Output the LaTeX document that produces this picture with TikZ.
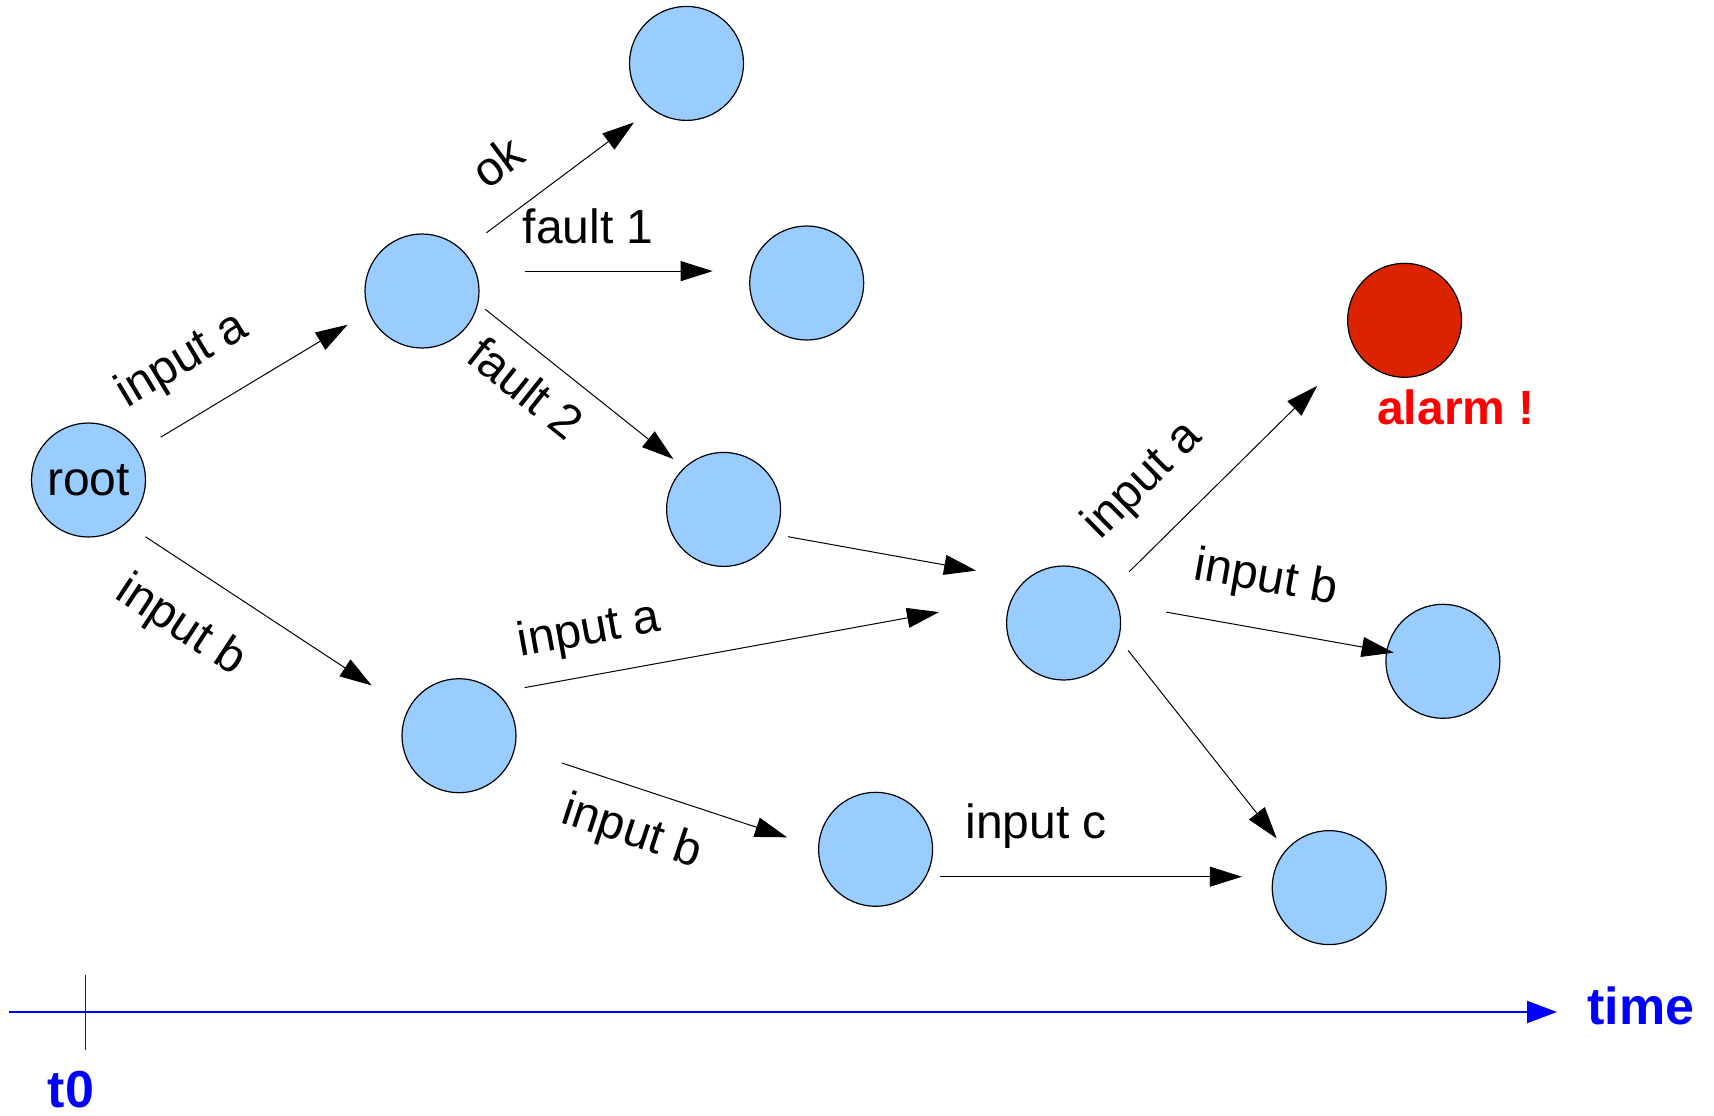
\documentclass[tikz,border=0pt]{standalone}
\usepackage{fontspec}
\setmainfont{Liberation Sans}
\usetikzlibrary{arrows.meta}
\definecolor{nodeblue}{HTML}{99CCFF}
\definecolor{nodered}{HTML}{DC2300}
\definecolor{alarmred}{HTML}{FF0000}
\definecolor{axisblue}{HTML}{0000FF}
\begin{document}
\begin{tikzpicture}[x=0.5pt,y=-0.5pt,
  state/.style={circle,draw=black,line width=0.6pt,fill=nodeblue,minimum size=57pt,inner sep=0pt,
    font=\fontsize{24}{28}\selectfont},
  badstate/.style={state,fill=nodered},
  trans/.style={line width=0.5pt,-{Triangle[length=16pt,width=10pt]}},
  lbl/.style={font=\fontsize{24}{28}\selectfont,inner sep=0pt},
  alarmlbl/.style={font=\fontsize{24}{28}\selectfont\bfseries,text=alarmred,inner sep=0pt},
  axislbl/.style={font=\fontsize{26}{30}\selectfont\bfseries,text=axisblue,inner sep=0pt},
  axis/.style={draw=axisblue,line width=1pt,-{Triangle[length=15pt,width=11pt]}},
  tick/.style={draw=axisblue,line width=0.5pt}]
\useasboundingbox (0,0) rectangle (1714,1115);

% states
\node[state] (root) at (88.5,480) {root};
\node[state] (A) at (422,291) {};
\node[state] (ok) at (686.5,63.4) {};
\node[state] (f1) at (806.7,283) {};
\node[state] (f2) at (723.6,509.4) {};
\node[state] (B) at (459,735.7) {};
\node[state] (C) at (1063.6,623) {};
\node[badstate] (alarm) at (1404.6,320.3) {};
\node[state] (Rb) at (1442.9,661.3) {};
\node[state] (D) at (875.6,849.3) {};
\node[state] (E) at (1329.2,887.6) {};

% connector end points
\coordinate (s1) at (160.7,437.2);  \coordinate (e1) at (347.6,324.7);
\coordinate (s2) at (145.4,536.7);  \coordinate (e2) at (371.7,685.4);
\coordinate (s3) at (486.4,232.8);  \coordinate (e3) at (634,122.4);
\coordinate (s4) at (524.7,271.1);  \coordinate (e4) at (712.7,271.1);
\coordinate (s5) at (485.3,309.3);  \coordinate (e5) at (673.4,459.1);
\coordinate (s6) at (788.1,536.7);  \coordinate (e6) at (976.1,570.6);
\coordinate (s7) at (524.7,687.6);  \coordinate (e7) at (939,612.1);
\coordinate (s8) at (561.9,763);    \coordinate (e8) at (787,837.3);
\coordinate (s9) at (940.1,876.7);  \coordinate (e9) at (1241.8,876.7);
\coordinate (s10) at (1129.2,571.7); \coordinate (e10) at (1317.2,385.9);
\coordinate (s11) at (1166.3,612.1); \coordinate (e11) at (1393.7,652.6);
\coordinate (s12) at (1128.1,650.4); \coordinate (e12) at (1276.7,838.4);

\draw[trans] (s1) -- (e1);
\draw[trans] (s2) -- (e2);
\draw[trans] (s3) -- (e3);
\draw[trans] (s4) -- (e4);
\draw[trans] (s5) -- (e5);
\draw[trans] (s6) -- (e6);
\draw[trans] (s7) -- (e7);
\draw[trans] (s8) -- (e8);
\draw[trans] (s9) -- (e9);
\draw[trans] (s10) -- (e10);
\draw[trans] (s11) -- (e11);
\draw[trans] (s12) -- (e12);

% labels
\node[lbl,rotate=31] (l1) at (182.5,360.7) {input a};
\node[lbl,rotate=-33.3] (l2) at (180.4,626.4) {input b};
\node[lbl,rotate=36.6] (l3) at (497.4,161.8) {ok};
\node[lbl] (l4) at (588.1,226.3) {fault 1};
\node[lbl,rotate=-38.6] (l5) at (525.8,388) {fault 2};
\node[lbl,rotate=10.3] (l7) at (589.2,631.8) {input a};
\node[lbl,rotate=-18.3] (l8) at (631.8,833) {input b};
\node[lbl] (l9) at (1036.2,826.4) {input c};
\node[lbl,rotate=44.7] (l10) at (1143.4,481) {input a};
\node[lbl,rotate=-10] (l11) at (1265.8,579.3) {input b};
\node[alarmlbl] (alarmtxt) at (1456,407.7) {alarm !};

% time axis
\coordinate (ax0) at (9,1012);
\coordinate (ax1) at (1557,1012);
\coordinate (tk0) at (85,975);
\coordinate (tk1) at (85,1050);
\draw[axis] (ax0) -- (ax1);
\draw[tick] (tk0) -- (tk1);
\node[axislbl] (t0) at (71,1090) {t0};
\node[axislbl] (time) at (1641,1006) {time};
\end{tikzpicture}
\end{document}
